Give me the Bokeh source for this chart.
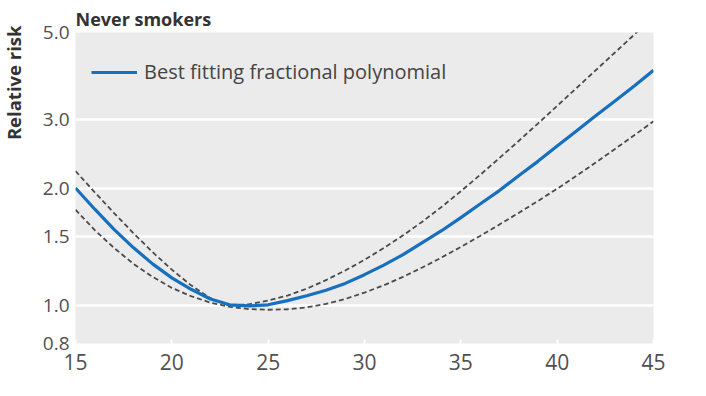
from bokeh.plotting import figure
from bokeh.models import Range1d, FixedTicker, PrintfTickFormatter, Legend, LegendItem, Label
from bokeh.embed import file_html
from bokeh.resources import INLINE

bmi = [15, 16, 17, 18, 19, 20, 21, 22, 23, 24, 25, 26, 27, 28, 29, 30,
       31, 32, 33, 34, 35, 36, 37, 38, 39, 40, 41, 42, 43, 44, 45]
rr_fit = [2.00, 1.765, 1.568, 1.408, 1.279, 1.178, 1.101, 1.04, 1.005, 0.998, 1.005, 1.03, 1.06, 1.095, 1.14, 1.20,
          1.27, 1.35, 1.45, 1.555, 1.68, 1.82, 1.97, 2.15, 2.34, 2.56, 2.80, 3.06, 3.34, 3.65, 4.00]
rr_upper = [2.21, 1.95, 1.726, 1.534, 1.371, 1.236, 1.127, 1.045, 1.00, 1.008, 1.03, 1.061, 1.105, 1.162, 1.23, 1.31,
            1.404, 1.513, 1.64, 1.789, 1.962, 2.16, 2.385, 2.638, 2.924, 3.245, 3.603, 4.002, 4.444, 4.936, 5.48]
rr_lower = [1.76, 1.56, 1.405, 1.28, 1.185, 1.11, 1.057, 1.018, 0.993, 0.98, 0.976, 0.979, 0.99, 1.01, 1.04, 1.08,
            1.127, 1.185, 1.252, 1.328, 1.413, 1.508, 1.612, 1.727, 1.852, 1.992, 2.149, 2.323, 2.517, 2.729, 2.962]
y_ticks = [0.8, 1.0, 1.5, 2.0, 3.0, 5.0]
x_ticks = [15, 20, 25, 30, 35, 40, 45]
title_text = "Never smokers"
y_label = "Relative risk"
legend_label = "Best fitting fractional polynomial"

FONT = "Open Sans"
W, H = 696, 388
ML, MT = 75, 32
FW, FH = 578, 311
MR, MB = W - ML - FW, H - MT - FH

p = figure(width=W, height=H, output_backend="svg", toolbar_location=None,
           x_range=Range1d(15, 45), y_range=Range1d(0.8, 5.0), y_axis_type="log",
           min_border_left=ML, min_border_right=MR, min_border_top=MT, min_border_bottom=MB)
p.background_fill_color = "#EBEBEC"
p.border_fill_color = "white"
p.outline_line_color = None
p.title.standoff = 0

# axes
p.yaxis.ticker = FixedTicker(ticks=y_ticks, minor_ticks=[])
p.yaxis.formatter = PrintfTickFormatter(format="%.1f")
p.yaxis.axis_line_color = None
p.yaxis.major_tick_line_color = None
p.yaxis.minor_tick_line_color = None
p.yaxis.major_tick_in = 0
p.yaxis.major_tick_out = 0
p.yaxis.major_label_standoff = 6
p.yaxis.major_label_text_font = FONT
p.yaxis.major_label_text_font_size = "19px"
p.yaxis.major_label_text_color = "#505050"

p.xaxis.ticker = FixedTicker(ticks=x_ticks, minor_ticks=[])
p.xaxis.axis_line_color = None
p.xaxis.major_tick_line_color = "white"
p.xaxis.major_tick_line_width = 2
p.xaxis.major_tick_in = 4
p.xaxis.major_tick_out = 0
p.xaxis.minor_tick_line_color = None
p.xaxis.major_label_standoff = 10
p.xaxis.major_label_text_font = FONT
p.xaxis.major_label_text_font_size = "21px"
p.xaxis.major_label_text_color = "#505050"

p.xgrid.grid_line_color = None
p.ygrid.ticker = FixedTicker(ticks=y_ticks)
p.ygrid.grid_line_color = "white"
p.ygrid.grid_line_width = 2.5
p.ygrid.minor_grid_line_color = None

# title and y label as labels in the side panels
p.add_layout(Label(x=0, y=14, x_units="screen", y_units="screen", text=title_text,
                   text_font=FONT, text_font_size="18px", text_font_style="bold",
                   text_color="#333333", text_baseline="alphabetic", text_align="left"), "above")
p.add_layout(Label(x=-1, y=FH + 7, x_units="screen", y_units="screen", text=y_label,
                   angle=1.5707963, text_font=FONT, text_font_size="18.5px", text_font_style="bold",
                   text_color="#333333", text_baseline="alphabetic", text_align="right"), "left")

# curves
p.line(bmi, rr_upper, line_color="#4a4a4a", line_width=1.8, line_dash="5 3")
p.line(bmi, rr_lower, line_color="#4a4a4a", line_width=1.8, line_dash="5 3")
fit = p.line(bmi, rr_fit, line_color="#1670BD", line_width=3.2)

legend = Legend(items=[LegendItem(label=legend_label, renderers=[fit])],
                location=(16, FH - 53), orientation="vertical")
legend.background_fill_alpha = 0
legend.border_line_color = None
legend.padding = 0
legend.margin = 0
legend.glyph_width = 46
legend.glyph_height = 20
legend.label_height = 20
legend.label_standoff = 7
legend.label_text_font = FONT
legend.label_text_font_size = "20px"
legend.label_text_color = "#444444"
p.add_layout(legend, "center")

open("out.html", "w").write(file_html(p, INLINE))
